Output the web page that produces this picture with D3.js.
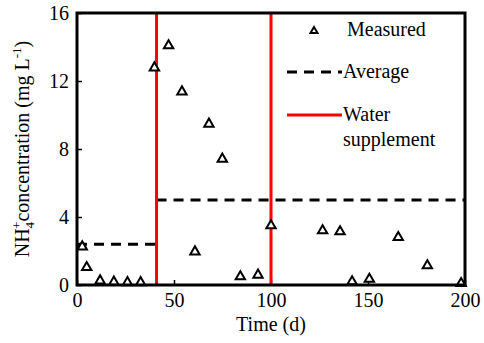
<!DOCTYPE html>
<html>

<head>
    <meta charset="utf-8" />
    <style>
        body {
            margin: 0;
            background-color: white;
        }
    </style>
    <script src="https://d3js.org/d3.v7.min.js"></script>
</head>

<body>
    <script>
        // measured NH4+ (day, mg/L)
        var days = [2.7, 5, 11.9, 19, 26, 32.8, 39.9, 47.2, 54.1, 60.8, 68, 74.9, 84.2, 93.3, 100, 126.6, 135.6, 141.8, 150.7, 165.6, 180.6, 198];
        var conc = [2.25, 1.04, 0.25, 0.18, 0.15, 0.15, 12.78, 14.08, 11.37, 1.96, 9.47, 7.41, 0.49, 0.59, 3.49, 3.2, 3.14, 0.2, 0.35, 2.8, 1.14, 0.1];

        // average levels: [from, to, value]
        var avgStart = [0, 41];
        var avgEnd = [41, 200];
        var avgValue = [2.4, 5.0];

        var supplementDays = [41, 100];

        var xTicks = [0, 50, 100, 150, 200];
        var yTicks = [0, 4, 8, 12, 16];

        var fontStack = "'Liberation Serif', 'Times New Roman', serif";

        var width = 484,
            height = 343;
        var margin = { left: 77, right: 19, top: 13, bottom: 58 };
        var w = width - margin.left - margin.right,
            h = height - margin.top - margin.bottom;

        var svg = d3.select("body").append("svg")
            .attr("width", width)
            .attr("height", height)
            .attr("font-family", "Liberation Serif")
            .style("font-family", fontStack);

        var g = svg.append("g")
            .attr("transform", "translate(" + margin.left + "," + margin.top + ")");

        var x = d3.scaleLinear().domain([0, 200]).range([0, w]);
        var y = d3.scaleLinear().domain([0, 16]).range([h, 0]);

        // axes with inward ticks
        var xAxis = g.append("g")
            .attr("transform", "translate(0," + h + ")")
            .call(d3.axisBottom(x).tickValues(xTicks).tickSize(-5).tickPadding(8));
        var yAxis = g.append("g")
            .call(d3.axisLeft(y).tickValues(yTicks).tickSize(-5).tickPadding(8));

        [xAxis, yAxis].forEach(function (a) {
            a.attr("font-family", "Liberation Serif").attr("font-size", 20);
            a.select(".domain").remove();
            a.selectAll("line").attr("stroke", "black").attr("stroke-width", 1.5);
            a.selectAll("text")
                .attr("fill", "black")
                .attr("font-family", "Liberation Serif")
                .style("font-size", "20px")
                .style("font-family", fontStack);
        });
        yAxis.selectAll("text").attr("dy", "0.34em");

        // average dashed lines
        for (var i = 0; i < avgValue.length; i++) {
            g.append("line")
                .attr("x1", x(avgStart[i]))
                .attr("x2", x(avgEnd[i]))
                .attr("y1", y(avgValue[i]))
                .attr("y2", y(avgValue[i]))
                .attr("stroke", "black")
                .attr("stroke-width", 3)
                .attr("stroke-dasharray", "10,7");
        }

        // water supplement lines
        g.selectAll(".supp")
            .data(supplementDays)
            .enter().append("line")
            .attr("class", "supp")
            .attr("x1", function (d) { return x(d); })
            .attr("x2", function (d) { return x(d); })
            .attr("y1", 0)
            .attr("y2", h)
            .attr("stroke", "#ff0000")
            .attr("stroke-width", 3);

        // measured points
        var tri = d3.symbol().type(d3.symbolTriangle).size(38);
        g.selectAll(".pt")
            .data(days)
            .enter().append("path")
            .attr("class", "pt")
            .attr("d", tri)
            .attr("transform", function (d, i) { return "translate(" + x(d) + "," + y(conc[i]) + ")"; })
            .attr("fill", "white")
            .attr("stroke", "black")
            .attr("stroke-width", 2);

        // frame
        g.append("rect")
            .attr("width", w)
            .attr("height", h)
            .attr("fill", "none")
            .attr("stroke", "black")
            .attr("stroke-width", 3);

        function label(sel, size) {
            return sel.attr("font-family", "Liberation Serif")
                .style("font-family", fontStack)
                .style("font-size", size + "px")
                .attr("fill", "black");
        }

        // legend
        var leg = svg.append("g");
        leg.append("path")
            .attr("d", d3.symbol().type(d3.symbolTriangle).size(22))
            .attr("transform", "translate(314,31)")
            .attr("fill", "white")
            .attr("stroke", "black")
            .attr("stroke-width", 2);
        label(leg.append("text").attr("x", 347).attr("y", 36), 20).text("Measured");

        leg.append("line")
            .attr("x1", 287).attr("x2", 342).attr("y1", 72).attr("y2", 72)
            .attr("stroke", "black").attr("stroke-width", 3).attr("stroke-dasharray", "10,7");
        label(leg.append("text").attr("x", 343).attr("y", 78), 20).text("Average");

        leg.append("line")
            .attr("x1", 287).attr("x2", 342).attr("y1", 115).attr("y2", 115)
            .attr("stroke", "#ff0000").attr("stroke-width", 3);
        label(leg.append("text").attr("x", 343).attr("y", 121), 20).text("Water");
        label(leg.append("text").attr("x", 343).attr("y", 146), 20).text("supplement");

        // axis labels
        label(svg.append("text"), 20)
            .attr("x", margin.left + w / 2)
            .attr("y", 331)
            .attr("text-anchor", "middle")
            .text("Time (d)");

        var yl = label(svg.append("text"), 20)
            .attr("transform", "translate(29," + (margin.top + h / 2) + ")rotate(-90)")
            .attr("text-anchor", "middle");
        yl.append("tspan").text("NH");
        yl.append("tspan").style("font-size", "13px").attr("dy", 5).text("4");
        yl.append("tspan").style("font-size", "13px").attr("dy", -13).attr("dx", -7).text("+");
        yl.append("tspan").attr("dy", 8).text("concentration (mg L");
        yl.append("tspan").style("font-size", "13px").attr("dy", -8).text("-1");
        yl.append("tspan").attr("dy", 8).text(")");
    </script>
</body>

</html>
